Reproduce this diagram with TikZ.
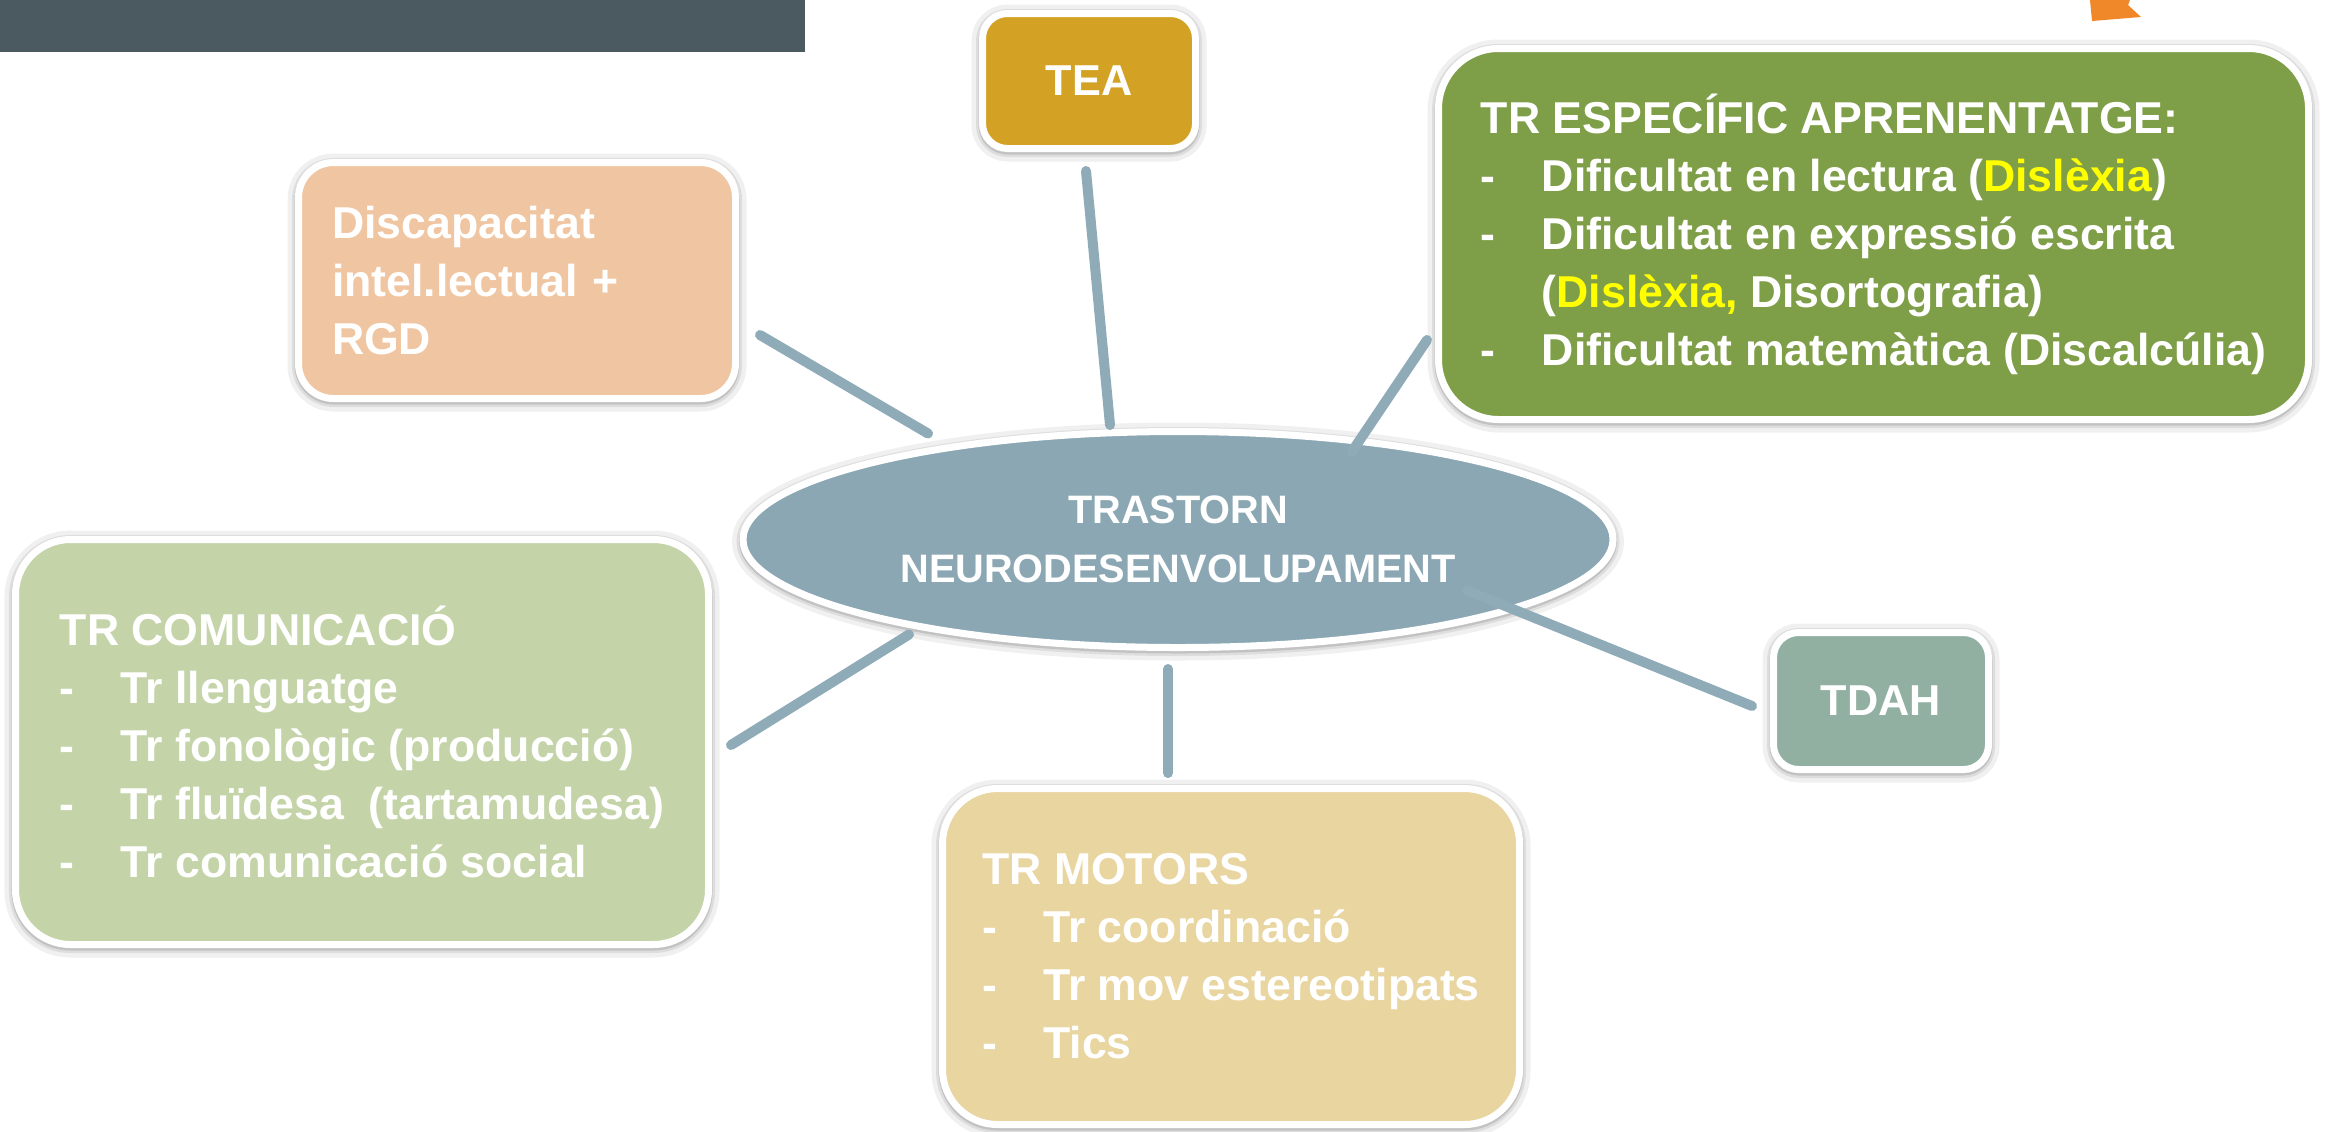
\documentclass[tikz,border=0pt]{standalone}
\usepackage{fontspec}
\setmainfont{Liberation Sans}
\usetikzlibrary{shapes.geometric}
\usetikzlibrary{shadows}
\definecolor{barcol}{HTML}{4B5A61}
\definecolor{flagcol}{HTML}{F0882A}
\definecolor{teacol}{HTML}{D3A225}
\definecolor{disccol}{HTML}{F0C6A2}
\definecolor{espcol}{HTML}{7F9E48}
\definecolor{hubcol}{HTML}{8BA7B3}
\definecolor{comcol}{HTML}{C4D4A8}
\definecolor{motcol}{HTML}{E8D5A0}
\definecolor{tdahcol}{HTML}{92B0A2}
\definecolor{linkcol}{HTML}{8FABB8}
\definecolor{hlcol}{HTML}{FFFF00}
\newcommand{\itm}[1]{\makebox[0.61cm][l]{-}#1}

\begin{document}
\begin{tikzpicture}
\tikzstyle{box}=[rectangle,draw=white,line width=0.07cm,text=white,inner sep=0pt,align=left,
  font=\bfseries\fontsize{12.7}{16.5}\selectfont,
  general shadow={shadow yshift=-0.02cm,opacity=0.06,draw=black,fill=black,line width=0.22cm},
  general shadow={shadow yshift=-0.02cm,opacity=0.08,draw=black,fill=black,line width=0.13cm},
  general shadow={shadow yshift=-0.02cm,opacity=0.12,draw=black,fill=black,line width=0.08cm}]
\tikzstyle{small}=[font=\bfseries\fontsize{12.3}{14}\selectfont,rounded corners=0.25cm]
\tikzstyle{link}=[draw=linkcol,line width=0.1cm,line cap=round]
\useasboundingbox (0,0) rectangle (23.36,-11.31);
\fill[barcol] (0,0) rectangle (8.05,-0.52);
\fill[flagcol] (20.90,0) -- (21.30,0) -- (21.28,-0.05) -- (21.41,-0.17) -- (20.92,-0.21) -- cycle;
\node[box,small,fill=teacol,minimum width=2.13cm,minimum height=1.35cm] (tea) at (10.89,-0.81) {TEA};
\node[box,fill=disccol,minimum width=4.37cm,minimum height=2.36cm,text width=3.7cm,rounded corners=0.35cm] (disc) at (5.17,-2.805)
  {Discapacitat\\ intel.lectual +\\ RGD};
\node[box,fill=espcol,minimum width=8.70cm,minimum height=3.71cm,rounded corners=0.6cm] (esp) at (18.735,-2.34)
  {TR ESPECÍFIC APRENENTATGE:\\
   \itm{Dificultat en lectura (\textcolor{hlcol}{Dislèxia})}\\
   \itm{Dificultat en expressió escrita}\\
   \hspace*{0.61cm}(\textcolor{hlcol}{Dislèxia,} Disortografia)\\
   \itm{Dificultat matemàtica (Discalcúlia)}};
\node[box,ellipse,fill=hubcol,minimum width=8.70cm,minimum height=2.16cm,align=center,
  font=\bfseries\fontsize{11.3}{16.7}\selectfont] (hub) at (11.78,-5.395) {TRASTORN\\ NEURODESENVOLUPAMENT};
\node[box,fill=comcol,minimum width=6.93cm,minimum height=4.05cm,rounded corners=0.55cm] (com) at (3.62,-7.42)
  {TR COMUNICACIÓ\\
   \itm{Tr llenguatge}\\
   \itm{Tr fonològic (producció)}\\
   \itm{Tr fluïdesa\ \ (tartamudesa)}\\
   \itm{Tr comunicació social}};
\node[box,fill=motcol,minimum width=5.77cm,minimum height=3.36cm,rounded corners=0.55cm] (mot) at (12.31,-9.565)
  {TR MOTORS\\
   \itm{Tr coordinació}\\
   \itm{Tr mov estereotipats}\\
   \itm{Tics}};
\node[box,small,fill=tdahcol,minimum width=2.15cm,minimum height=1.37cm] (tdah) at (18.81,-7.01) {TDAH};
\draw[link] ([shift={(-0.03,-0.19)}]tea.south) -- ([shift={(-0.68,0.03)}]hub.north);
\draw[link] ([shift={(0.21,-0.545)}]disc.east) -- ([shift={(-2.50,1.06)}]hub.center);
\draw[link] ([shift={(-0.08,0.83)}]esp.south west) -- ([shift={(1.74,0.88)}]hub.center);
\draw[link] ([shift={(0.19,-0.03)}]com.east) -- ([shift={(-2.69,-0.95)}]hub.center);
\draw[link] ([shift={(-0.10,-0.18)}]hub.south) -- ([shift={(-0.63,0.12)}]mot.north);
\draw[link] ([shift={(2.89,-0.51)}]hub.center) -- ([shift={(-0.18,-0.05)}]tdah.west);
\end{tikzpicture}
\end{document}
